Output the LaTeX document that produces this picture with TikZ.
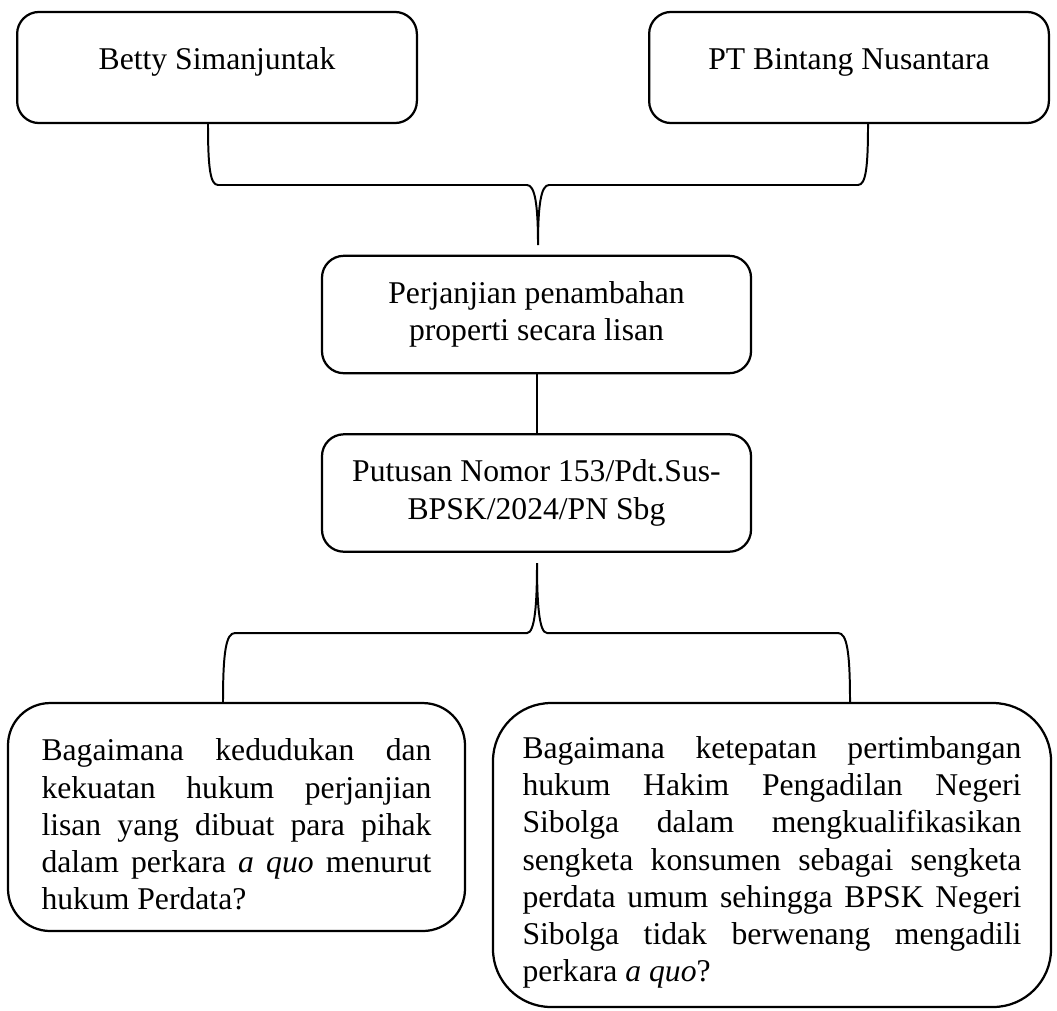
\documentclass[tikz,border=0pt]{standalone}
\usepackage{fontspec}
\setmainfont{Liberation Serif}
\usetikzlibrary{calc}
\hyphenpenalty=10000
\exhyphenpenalty=10000
\tikzset{
  box/.style={draw, line width=0.85pt, rounded corners=8.3pt, inner sep=0pt,
    align=center, font=\fontsize{12pt}{14.1pt}\selectfont},
  topbox/.style={box, minimum width=151.5pt, minimum height=42.1pt, text depth=6.5pt},
  midbox/.style={box, minimum width=162.6pt, minimum height=44.5pt},
  askbox/.style={box, align=justify},
  brace/.style={line width=0.75pt},
}

\begin{document}
\begin{tikzpicture}[x=0.379pt, y=-0.379pt]
\useasboundingbox (0,0) rectangle (1057,1010);

\node[topbox] (betty) at (217,67.5) {Betty Simanjuntak};
\node[topbox] (pt) at (849,67.5) {PT Bintang Nusantara};

\node[midbox] (janji) at (536.5,314.5) {Perjanjian penambahan\\properti secara lisan};
\node[midbox] (putusan) at (536.5,493) {Putusan Nomor 153/Pdt.Sus-\\BPSK/2024/PN Sbg};

\node[askbox, rounded corners=16pt, text width=147.8pt,
  minimum width=173.2pt, minimum height=86.4pt] (qleft) at (236.5,817)
  {\rule{0pt}{14pt}Bagaimana kedudukan dan\linebreak kekuatan hukum perjanjian\linebreak
   lisan yang dibuat para pihak\linebreak dalam perkara \textit{a quo} menurut\linebreak
   hukum Perdata?};
\node[askbox, rounded corners=22pt, text width=189.1pt,
  minimum width=211.5pt, minimum height=115.2pt] (qright) at (772,855)
  {\rule{0pt}{14pt}Bagaimana ketepatan pertimbangan\linebreak hukum Hakim Pengadilan Negeri\linebreak
   Sibolga dalam mengkualifikasikan\linebreak sengketa konsumen sebagai sengketa\linebreak
   perdata umum sehingga BPSK Negeri\linebreak Sibolga tidak berwenang mengadili\linebreak
   perkara \textit{a quo}?};

% upper brace
\coordinate (bA) at (208,185);
\coordinate (bB) at (868,185);
\coordinate (tipA) at (538,245);
\draw[brace] (betty.south -| bA) .. controls +(0,42) and +(-8,0) .. ($(bA)+(10,0)$)
  -- ($(tipA|-bA)+(-11,0)$) .. controls +(8,0) and +(0,-40) .. (tipA)
  .. controls +(0,-40) and +(-8,0) .. ($(tipA|-bA)+(11,0)$)
  -- ($(bB)+(-10,0)$) .. controls +(8,0) and +(0,42) .. (pt.south -| bB);

\draw[brace] (janji) -- (putusan);

% lower brace
\coordinate (bC) at (223,633);
\coordinate (bD) at (850,633);
\coordinate (tipB) at (537,563);
\draw[brace] (qleft.north -| bC) .. controls +(0,-50) and +(-9,0) .. ($(bC)+(12,0)$)
  -- ($(tipB|-bC)+(-10,0)$) .. controls +(8,0) and +(0,40) .. (tipB)
  .. controls +(0,40) and +(-8,0) .. ($(tipB|-bC)+(10,0)$)
  -- ($(bD)+(-12,0)$) .. controls +(9,0) and +(0,-50) .. (qright.north -| bD);
\end{tikzpicture}
\end{document}
